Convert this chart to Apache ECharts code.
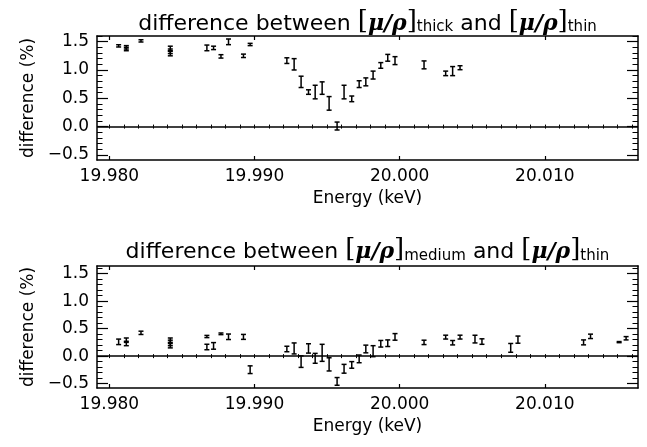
<!DOCTYPE html>
<html>
<head>
<meta charset="utf-8">
<script src="https://cdn.jsdelivr.net/npm/echarts@6/dist/echarts.min.js"></script>
<style>
  html, body { margin: 0; padding: 0; background: #fff; }
  #chart { width: 647px; height: 447px; }
</style>
</head>
<body>
<div id="chart"></div>
<script>
// ---- data ----
const topEnergy = [19.98064, 19.98117, 19.98117, 19.98218, 19.98420, 19.98420, 19.98420, 19.98672, 19.98718, 19.98769,
  19.98821, 19.98924, 19.98970, 19.99223, 19.99273, 19.99321, 19.99372, 19.99418, 19.99466, 19.99514,
  19.99569, 19.99617, 19.99670, 19.99721, 19.99767, 19.99817, 19.99870, 19.99918, 19.99968, 20.00168,
  20.00317, 20.00365, 20.00416];
const topDiff = [1.426, 1.40, 1.37, 1.514, 1.38, 1.33, 1.29, 1.39, 1.39, 1.24,
  1.497, 1.25, 1.45, 1.165, 1.10, 0.79, 0.61, 0.61, 0.68, 0.41,
  0.01, 0.61, 0.49, 0.75, 0.79, 0.91, 1.08, 1.215, 1.165, 1.09,
  0.94, 0.98, 1.04];
const topErr = [0.02, 0.03, 0.03, 0.02, 0.04, 0.04, 0.04, 0.05, 0.03, 0.03,
  0.05, 0.03, 0.02, 0.05, 0.10, 0.10, 0.04, 0.12, 0.11, 0.12,
  0.07, 0.12, 0.05, 0.06, 0.07, 0.07, 0.05, 0.06, 0.07, 0.07,
  0.04, 0.08, 0.035];

const botEnergy = [19.98064, 19.98117, 19.98117, 19.98218, 19.98420, 19.98420, 19.98420, 19.98672, 19.98672, 19.98718,
  19.98769, 19.98821, 19.98924, 19.98970, 19.99223, 19.99273, 19.99321, 19.99372, 19.99418, 19.99466,
  19.99514, 19.99569, 19.99617, 19.99670, 19.99721, 19.99767, 19.99817, 19.99870, 19.99918, 19.99968,
  20.00168, 20.00317, 20.00365, 20.00416, 20.00519, 20.00567, 20.00765, 20.00815, 20.01267, 20.01315,
  20.01512, 20.01560];
const botDiff = [0.26, 0.30, 0.22, 0.424, 0.28, 0.24, 0.20, 0.357, 0.166, 0.186,
  0.406, 0.352, 0.35, -0.247, 0.13, 0.14, -0.10, 0.14, -0.04, 0.06,
  -0.15, -0.46, -0.23, -0.16, -0.05, 0.13, 0.09, 0.225, 0.235, 0.35,
  0.25, 0.346, 0.244, 0.346, 0.31, 0.265, 0.15, 0.30, 0.25, 0.36,
  0.255, 0.325];
const botErr = [0.05, 0.03, 0.03, 0.03, 0.05, 0.05, 0.05, 0.02, 0.05, 0.06,
  0.015, 0.05, 0.045, 0.07, 0.05, 0.10, 0.105, 0.085, 0.09, 0.155,
  0.12, 0.07, 0.08, 0.06, 0.07, 0.07, 0.10, 0.06, 0.06, 0.06,
  0.04, 0.035, 0.04, 0.035, 0.07, 0.05, 0.08, 0.065, 0.045, 0.04,
  0.01, 0.03];

const xMajor = [19.98, 19.99, 20.00, 20.01];
const yMajor = [-0.5, 0.0, 0.5, 1.0, 1.5];
const xRange = [19.97915, 20.01642];
const yRangeTop = [-0.59, 1.6];
const yRangeBot = [-0.58, 1.64];

// minor tick positions (axis decoration, 0.001 keV and 0.1 %)
const xMinor = [];
for (let i = 19979; i <= 20016; i++) xMinor.push(i / 1000);
const yMinor = [];
for (let i = -5; i <= 16; i++) yMinor.push(i / 10);

const FONT = 'DejaVu Sans';
const BLACK = '#000';

function xAxes(g) {
  const base = {
    gridIndex: g, type: 'value', min: xRange[0], max: xRange[1],
    splitLine: { show: false },
    axisLine: { show: false }
  };
  return [
    Object.assign({}, base, {
      position: 'bottom',
      axisLine: { show: true, onZero: false, lineStyle: { color: BLACK, width: 1.5 } },
      axisTick: { show: true, inside: true, length: 4, customValues: xMajor, lineStyle: { color: BLACK, width: 1.2 } },
      axisLabel: { show: true, customValues: xMajor, margin: 8, color: BLACK, fontFamily: FONT, fontSize: 17,
        formatter: v => v.toFixed(3) },
      name: 'Energy (keV)', nameLocation: 'middle', nameGap: 30,
      nameTextStyle: { color: BLACK, fontFamily: FONT, fontSize: 17 }
    }),
    Object.assign({}, base, {
      position: 'bottom',
      axisTick: { show: true, inside: true, length: 2, customValues: xMinor, lineStyle: { color: BLACK, width: 1 } },
      axisLabel: { show: false }
    }),
    Object.assign({}, base, {
      position: 'top',
      axisLine: { show: true, onZero: false, lineStyle: { color: BLACK, width: 1.5 } },
      axisTick: { show: true, inside: true, length: 4, customValues: xMajor, lineStyle: { color: BLACK, width: 1.2 } },
      axisLabel: { show: false }
    }),
    Object.assign({}, base, {
      position: 'top',
      axisTick: { show: true, inside: true, length: 2, customValues: xMinor, lineStyle: { color: BLACK, width: 1 } },
      axisLabel: { show: false }
    })
  ];
}

function yAxes(g, range) {
  const base = {
    gridIndex: g, type: 'value', min: range[0], max: range[1],
    splitLine: { show: false },
    axisLine: { show: false }
  };
  return [
    Object.assign({}, base, {
      position: 'left',
      axisLine: { show: true, onZero: false, lineStyle: { color: BLACK, width: 1.5 } },
      axisTick: { show: true, inside: true, length: 11, customValues: yMajor, lineStyle: { color: BLACK, width: 1.2 } },
      axisLabel: { show: true, customValues: yMajor, margin: 8, color: BLACK, fontFamily: FONT, fontSize: 17,
        formatter: v => (v < 0 ? '\u2212' + Math.abs(v).toFixed(1) : v.toFixed(1)) },
      name: 'difference (%)', nameLocation: 'middle', nameGap: 60,
      nameTextStyle: { color: BLACK, fontFamily: FONT, fontSize: 17 }
    }),
    Object.assign({}, base, {
      position: 'left',
      axisTick: { show: true, inside: true, length: 5.5, customValues: yMinor, lineStyle: { color: BLACK, width: 1 } },
      axisLabel: { show: false }
    }),
    Object.assign({}, base, {
      position: 'right',
      axisLine: { show: true, onZero: false, lineStyle: { color: BLACK, width: 1.5 } },
      axisTick: { show: true, inside: true, length: 11, customValues: yMajor, lineStyle: { color: BLACK, width: 1.2 } },
      axisLabel: { show: false }
    }),
    Object.assign({}, base, {
      position: 'right',
      axisTick: { show: true, inside: true, length: 5.5, customValues: yMinor, lineStyle: { color: BLACK, width: 1 } },
      axisLabel: { show: false }
    })
  ];
}

function errSeries(g, xs, ys, es) {
  const data = xs.map((x, i) => [x, ys[i], es[i]]);
  return {
    type: 'custom',
    xAxisIndex: g * 4, yAxisIndex: g * 4,
    data: data,
    encode: { x: 0, y: 1 },
    renderItem: function (params, api) {
      const x = api.value(0), v = api.value(1), e = api.value(2);
      const lo = api.coord([x, v - e]);
      const hi = api.coord([x, v + e]);
      const w = 2.5;
      const st = { stroke: BLACK, lineWidth: 1.5 };
      return {
        type: 'group',
        children: [
          { type: 'line', shape: { x1: lo[0], y1: lo[1], x2: hi[0], y2: hi[1] }, style: st },
          { type: 'line', shape: { x1: lo[0] - w, y1: lo[1], x2: lo[0] + w, y2: lo[1] }, style: st },
          { type: 'line', shape: { x1: hi[0] - w, y1: hi[1], x2: hi[0] + w, y2: hi[1] }, style: st }
        ]
      };
    },
    markLine: {
      silent: true, symbol: 'none', label: { show: false },
      lineStyle: { color: BLACK, width: 1.5, type: 'solid' },
      data: [{ yAxis: 0 }]
    },
    z: 3
  };
}

function titleText(sub) {
  return '{a|difference between }{m|[}{g|\u03bc/\u03c1}{m|]}{s|' + sub + '}{a| and }{m|[}{g|\u03bc/\u03c1}{m|]}{s|thin}';
}
const titleRich = {
  a: { fontFamily: FONT, fontSize: 22, color: BLACK, lineHeight: 30, verticalAlign: 'bottom' },
  m: { fontFamily: 'DejaVu Serif', fontSize: 26, color: BLACK, lineHeight: 30, verticalAlign: 'bottom' },
  g: { fontFamily: 'DejaVu Serif', fontStyle: 'italic', fontWeight: 'bold', fontSize: 22, color: BLACK, lineHeight: 30, verticalAlign: 'bottom' },
  s: { fontFamily: FONT, fontSize: 15, color: BLACK, lineHeight: 14, verticalAlign: 'bottom' }
};

const chart = echarts.init(document.getElementById('chart'), null, { renderer: 'canvas' });
chart.setOption({
  animation: false,
  backgroundColor: '#fff',
  grid: [
    { left: 97, right: 9, top: 36, height: 124 },
    { left: 97, right: 9, top: 266, height: 122 }
  ],
  xAxis: xAxes(0).concat(xAxes(1)),
  yAxis: yAxes(0, yRangeTop).concat(yAxes(1, yRangeBot)),
  series: [
    errSeries(0, topEnergy, topDiff, topErr),
    errSeries(1, botEnergy, botDiff, botErr)
  ],
  graphic: [
    { type: 'text', x: 367.5, y: 35, style: { text: titleText('thick'), rich: titleRich, align: 'center', verticalAlign: 'bottom' } },
    { type: 'text', x: 367.5, y: 263.5, style: { text: titleText('medium'), rich: titleRich, align: 'center', verticalAlign: 'bottom' } }
  ]
});
</script>
</body>
</html>
